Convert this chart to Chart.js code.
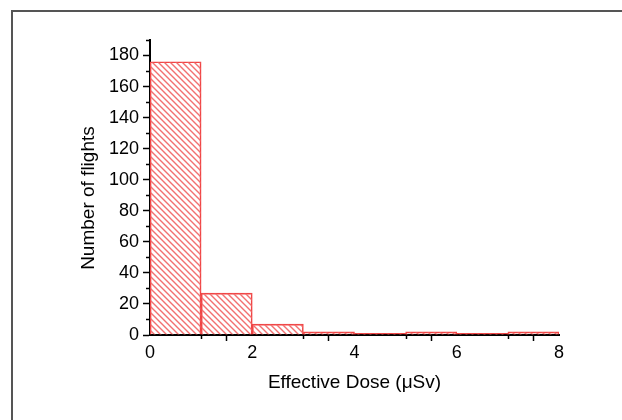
<!DOCTYPE html>
<html>
<head>
<meta charset="utf-8">
<script src="https://cdn.jsdelivr.net/npm/chart.js@4"></script>
<style>
  html, body { margin: 0; padding: 0; background: #fff; }
  #wrap { width: 622px; height: 420px; }
</style>
</head>
<body>
<div id="wrap"><canvas id="histChart"></canvas></div>
<script>
const binStarts = [0, 1, 2, 3, 4, 5, 6, 7];
const binWidth = 1;
const flightCounts = [176, 27, 7, 2, 1, 2, 1, 2];
const xTickLabels = [0, 2, 4, 6, 8];
const yTickLabels = [0, 20, 40, 60, 80, 100, 120, 140, 160, 180];

function makeHatch() {
    const size = 6;
    const c = document.createElement('canvas');
    c.width = size;
    c.height = size;
    const g = c.getContext('2d');
    g.strokeStyle = '#f27070';
    g.lineWidth = 1.4;
    g.beginPath();
    g.moveTo(0, 0); g.lineTo(size, size);
    g.moveTo(-1, size - 1); g.lineTo(1, size + 1);
    g.moveTo(size - 1, -1); g.lineTo(size + 1, 1);
    g.stroke();
    return g.createPattern(c, 'repeat');
}

// frame line on top and left, like the exported figure
const framePlugin = {
    id: 'frame',
    beforeDraw(chart) {
        const ctx = chart.ctx;
        ctx.save();
        ctx.fillStyle = '#fff';
        ctx.fillRect(0, 0, chart.width, chart.height);
        ctx.strokeStyle = '#555';
        ctx.lineWidth = 2;
        ctx.beginPath();
        ctx.moveTo(12, chart.height);
        ctx.lineTo(12, 11);
        ctx.lineTo(chart.width, 11);
        ctx.stroke();
        ctx.restore();
    }
};

// short minor ticks at odd steps
const minorTicks = {
    id: 'minorTicks',
    afterDraw(chart) {
        const ctx = chart.ctx;
        const x = chart.scales.x;
        const y = chart.scales.y;
        ctx.save();
        ctx.strokeStyle = '#000';
        ctx.lineWidth = 1.5;
        ctx.beginPath();
        for (let v = 1; v < 8; v += 2) {
            const px = Math.round(x.getPixelForValue(v)) + 0.5;
            ctx.moveTo(px, y.bottom);
            ctx.lineTo(px, y.bottom + 4);
        }
        for (let v = 10; v <= 190; v += 20) {
            const py = Math.round(y.getPixelForValue(v)) + 0.5;
            ctx.moveTo(x.left, py);
            ctx.lineTo(x.left - 4, py);
        }
        ctx.stroke();
        ctx.restore();
    }
};

const points = binStarts.map((s, i) => ({ x: s + binWidth / 2, y: flightCounts[i] }));
const tickFont = { family: 'Liberation Sans, Arial, sans-serif', size: 18 };
const titleFont = { family: 'Liberation Sans, Arial, sans-serif', size: 19 };

function majorTickColor(list) {
    return c => (c.tick && list.includes(c.tick.value)) ? '#000' : 'rgba(0,0,0,0)';
}

new Chart(document.getElementById('histChart'), {
    type: 'bar',
    data: {
        datasets: [{
            data: points,
            backgroundColor: makeHatch(),
            borderColor: '#f04545',
            borderWidth: 1,
            barPercentage: 1,
            categoryPercentage: 1
        }]
    },
    options: {
        responsive: true,
        maintainAspectRatio: false,
        animation: false,
        layout: { padding: { top: 40, right: 63, left: 0, bottom: 0 } },
        plugins: { legend: { display: false }, tooltip: { enabled: false } },
        scales: {
            x: {
                type: 'linear',
                min: 0,
                max: 8,
                offset: false,
                afterFit: s => { s.height = 85; },
                border: { color: '#000', width: 2 },
                grid: {
                    drawOnChartArea: false,
                    tickLength: 6,
                    tickWidth: 1.5,
                    tickColor: majorTickColor(xTickLabels)
                },
                ticks: {
                    stepSize: 1,
                    padding: 1,
                    color: '#000',
                    font: tickFont,
                    callback: v => xTickLabels.includes(v) ? v : ''
                },
                title: {
                    display: true,
                    text: 'Effective Dose (\u03bcSv)',
                    color: '#000',
                    font: titleFont,
                    padding: { top: 0, bottom: 26 }
                }
            },
            y: {
                min: 0,
                max: 190,
                afterFit: s => { s.width = 150; },
                border: { color: '#000', width: 2 },
                grid: {
                    drawOnChartArea: false,
                    tickLength: 7,
                    tickWidth: 1.5,
                    tickColor: majorTickColor(yTickLabels)
                },
                ticks: {
                    stepSize: 10,
                    padding: 4,
                    color: '#000',
                    font: tickFont,
                    callback: v => yTickLabels.includes(v) ? v : ''
                },
                title: {
                    display: true,
                    // trailing spaces nudge the label down like the original
                    text: 'Number of flights\u00a0\u00a0\u00a0\u00a0',
                    color: '#000',
                    font: titleFont,
                    padding: { top: 77, bottom: 0 }
                }
            }
        }
    },
    plugins: [framePlugin, minorTicks]
});
</script>
</body>
</html>
